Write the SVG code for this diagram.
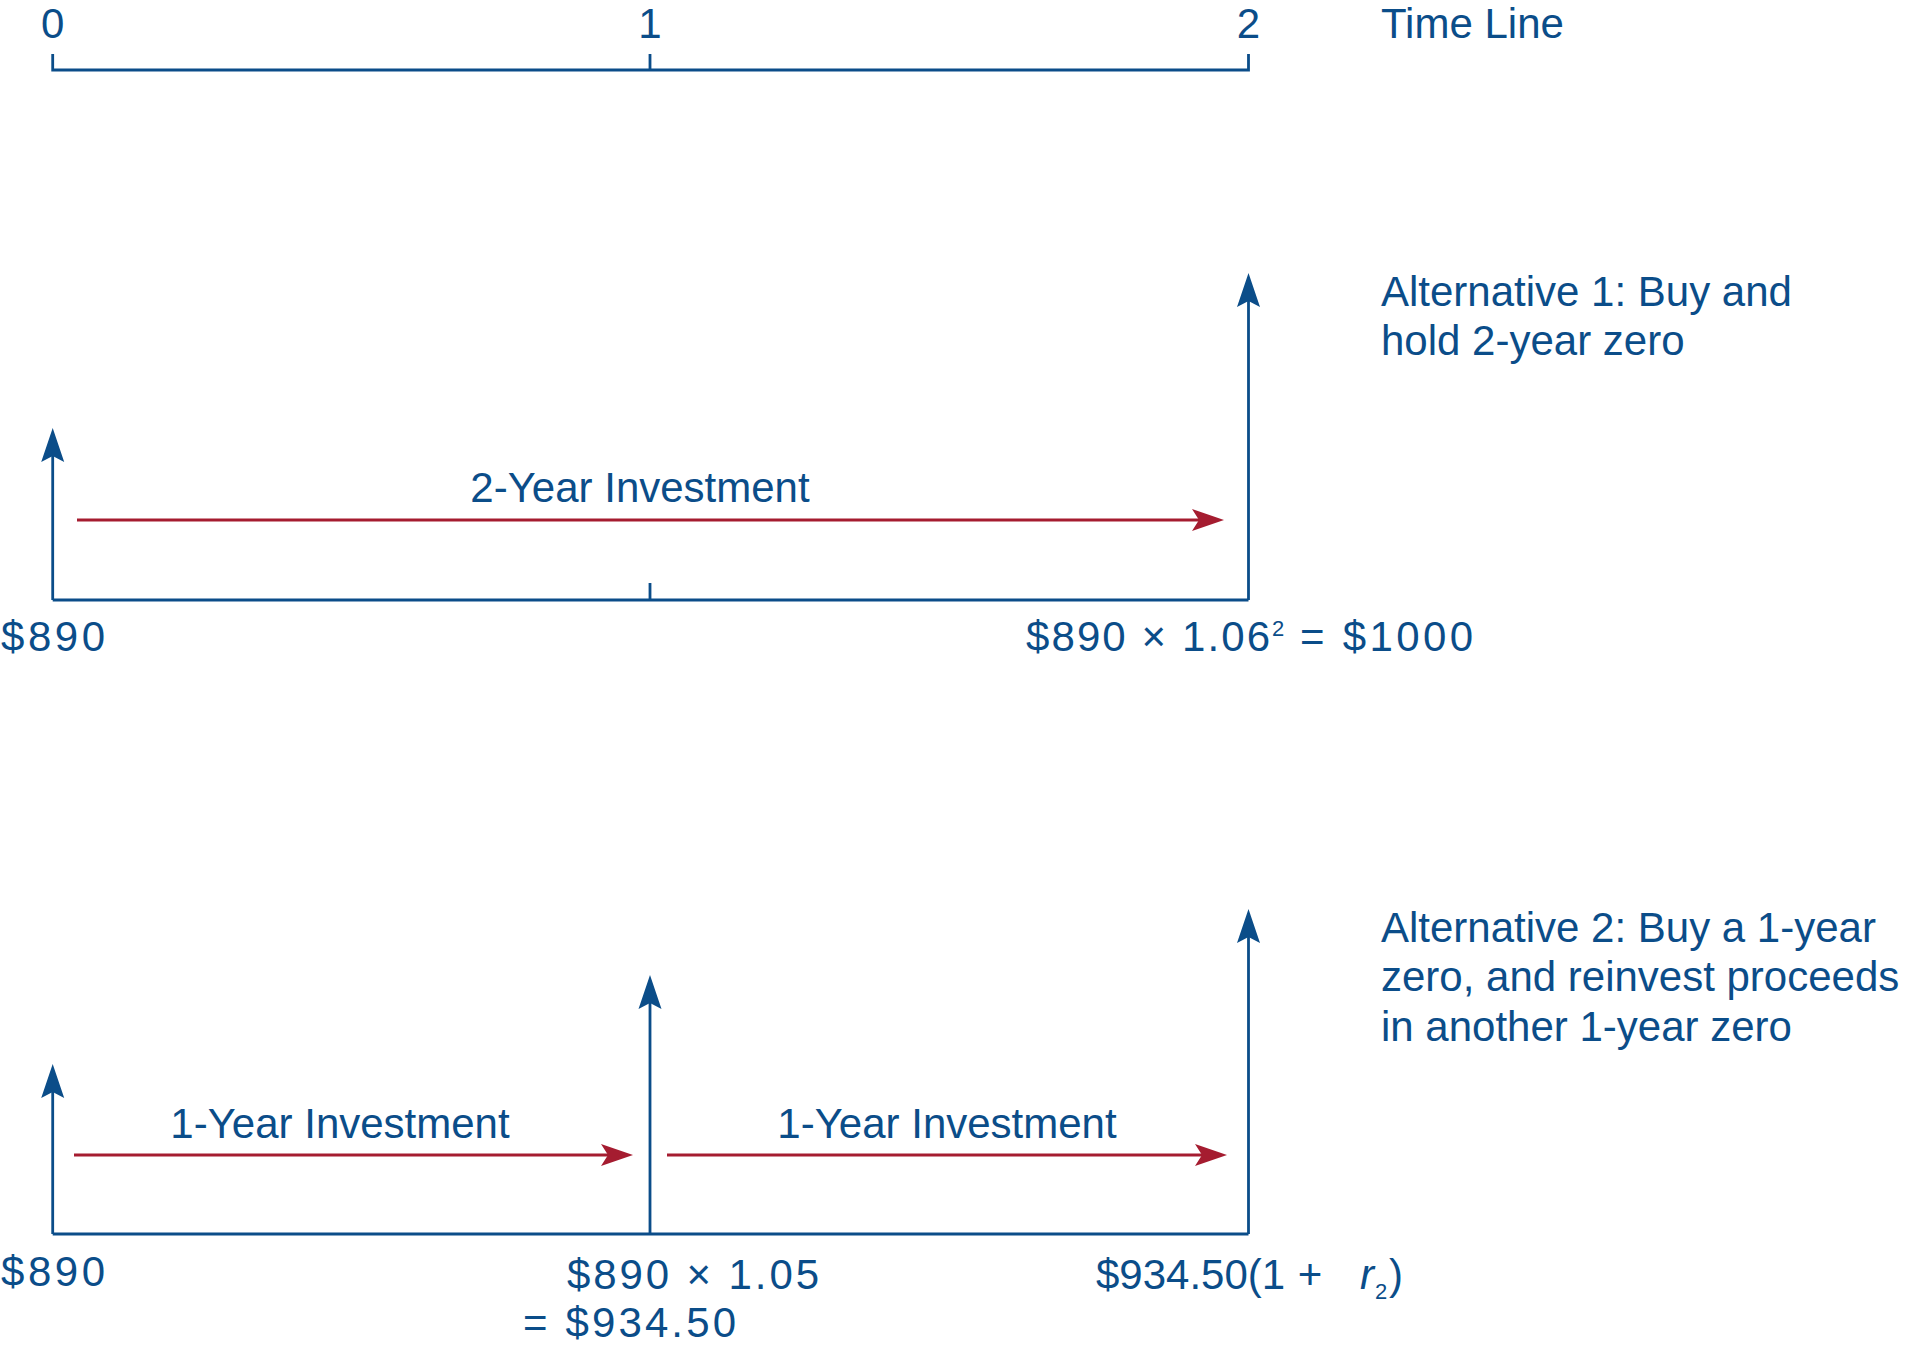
<svg xmlns="http://www.w3.org/2000/svg" width="1920" height="1350" viewBox="0 0 1920 1350">
<style>
.t{font-family:"Liberation Sans",Arial,sans-serif;font-size:42px;fill:#0b4d89}
.m{text-anchor:middle}
.s{font-size:22px}
.b{stroke:#0b4d89;stroke-width:2.8;fill:none}
.r{stroke:#a51c30;stroke-width:3;fill:none}
</style>
<defs>
<marker id="ab" markerUnits="userSpaceOnUse" markerWidth="36" markerHeight="26" viewBox="0 0 36 26" refX="24" refY="13" orient="auto">
<path d="M34,13 L0,1.5 L6,13 L0,24.5 Z" fill="#0b4d89"/>
</marker>
<marker id="ar" markerUnits="userSpaceOnUse" markerWidth="34" markerHeight="24" viewBox="0 0 34 24" refX="22" refY="12" orient="auto">
<path d="M32,12 L0,1 L7,12 L0,23 Z" fill="#a51c30"/>
</marker>
</defs>
<rect width="1920" height="1350" fill="#ffffff"/>
<g id="connectors">
<path class="b" d="M52.7,54 V70 H1248.5 V54"/>
<path class="b" d="M650,54 V70"/>
<path class="b" d="M52.7,600 H1248.5"/>
<path class="b" d="M650,583 V600"/>
<line class="b" x1="52.7" y1="600" x2="52.7" y2="438" marker-end="url(#ab)"/>
<line class="b" x1="1248.5" y1="600" x2="1248.5" y2="283" marker-end="url(#ab)"/>
<line class="r" x1="77" y1="520" x2="1214" y2="520" marker-end="url(#ar)"/>
<path class="b" d="M52.7,1234 H1248.5"/>
<line class="b" x1="52.7" y1="1234" x2="52.7" y2="1074" marker-end="url(#ab)"/>
<line class="b" x1="650" y1="1234" x2="650" y2="985" marker-end="url(#ab)"/>
<line class="b" x1="1248.5" y1="1234" x2="1248.5" y2="919" marker-end="url(#ab)"/>
<line class="r" x1="74" y1="1155" x2="623" y2="1155" marker-end="url(#ar)"/>
<line class="r" x1="667" y1="1155" x2="1217" y2="1155" marker-end="url(#ar)"/>
</g>
<g id="timeline">
<text class="t m" x="52.7" y="38">0</text>
<text class="t m" x="650" y="38">1</text>
<text class="t m" x="1248.5" y="38">2</text>
<text class="t" x="1381" y="38">Time Line</text>
</g>
<g id="alt1">
<text class="t" x="1381" y="306">Alternative 1: Buy and</text>
<text class="t" x="1381" y="355">hold 2-year zero</text>
<text class="t m" x="640" y="502">2-Year Investment</text>
<text class="t" x="1" y="651" textLength="104">$890</text>
<text class="t" x="1026" y="651" textLength="244">$890 × 1.06</text>
<text class="t s" x="1272" y="636">2</text>
<text class="t" x="1300" y="651" textLength="173">= $1000</text>
</g>
<g id="alt2">
<text class="t" x="1381" y="942">Alternative 2: Buy a 1-year</text>
<text class="t" x="1381" y="991">zero, and reinvest proceeds</text>
<text class="t" x="1381" y="1041">in another 1-year zero</text>
<text class="t m" x="340" y="1138">1-Year Investment</text>
<text class="t m" x="947" y="1138">1-Year Investment</text>
<text class="t" x="1" y="1286" textLength="104">$890</text>
<text class="t" x="567" y="1289" textLength="252">$890 × 1.05</text>
<text class="t" x="523" y="1337" textLength="213">= $934.50</text>
<text class="t" x="1096" y="1289">$934.50(1</text>
<text class="t m" x="1310" y="1289">+</text>
<text class="t" x="1360" y="1289" font-style="italic">r</text>
<text class="t s" x="1375" y="1299">2</text>
<text class="t" x="1389" y="1289">)</text>
</g>
</svg>
